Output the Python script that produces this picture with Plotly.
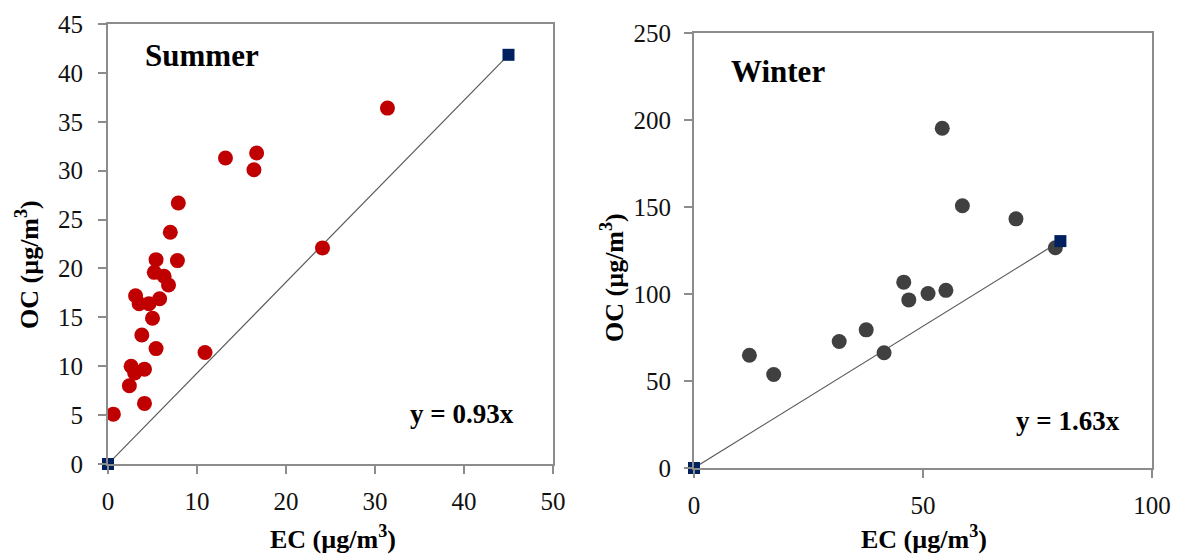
import plotly.graph_objects as go

W, H = 1177, 554

# Summer data
summer_ec = [0.6, 2.4, 2.6, 3.0, 4.1, 4.1, 3.8, 3.1, 3.5, 4.6, 5.0, 5.4, 5.4, 5.2, 6.3, 6.8, 5.8,
             7.0, 7.8, 7.9, 10.9, 13.2, 16.4, 16.7, 24.1, 31.4]
summer_oc = [5.1, 8.0, 10.0, 9.3, 9.7, 6.2, 13.2, 17.2, 16.4, 16.4, 14.9, 11.8, 20.9, 19.6, 19.2, 18.3, 16.9,
             23.7, 20.8, 26.7, 11.4, 31.3, 30.1, 31.8, 22.1, 36.4]
summer_slope = 0.93
summer_line_x = [0, 45]

# Winter data
winter_ec = [12.1, 17.4, 31.7, 37.6, 41.5, 45.8, 46.9, 51.1, 55.0, 54.2, 58.6, 70.3, 78.9]
winter_oc = [64.8, 53.7, 72.7, 79.4, 66.2, 106.8, 96.6, 100.3, 102.1, 195.3, 150.7, 143.2, 126.6]
winter_slope = 1.63
winter_line_x = [0, 80]

summer_xticks = [0, 10, 20, 30, 40, 50]
summer_yticks = [0, 5, 10, 15, 20, 25, 30, 35, 40, 45]
winter_xticks = [0, 50, 100]
winter_yticks = [0, 50, 100, 150, 200, 250]

FONT = "Liberation Serif"
AXC = "#8c8c8c"

fig = go.Figure()
fig.add_trace(go.Scatter(x=summer_line_x, y=[summer_slope * v for v in summer_line_x],
                         mode="lines", line=dict(color="#595959", width=1.2),
                         cliponaxis=False, xaxis="x", yaxis="y", showlegend=False))
fig.add_trace(go.Scatter(x=summer_ec, y=summer_oc, mode="markers",
                         marker=dict(size=15, color="#C00000"), cliponaxis=False,
                         xaxis="x", yaxis="y", showlegend=False))
fig.add_trace(go.Scatter(x=winter_line_x, y=[winter_slope * v for v in winter_line_x],
                         mode="lines", line=dict(color="#595959", width=1.2),
                         cliponaxis=False, xaxis="x2", yaxis="y2", showlegend=False))
fig.add_trace(go.Scatter(x=winter_ec, y=winter_oc, mode="markers",
                         marker=dict(size=15, color="#404040"), cliponaxis=False,
                         xaxis="x2", yaxis="y2", showlegend=False))
fig.add_trace(go.Scatter(x=summer_line_x, y=[summer_slope * v for v in summer_line_x], mode="markers",
                         marker=dict(symbol="square", size=12, color="#002060"),
                         cliponaxis=False, xaxis="x", yaxis="y", showlegend=False))
fig.add_trace(go.Scatter(x=winter_line_x, y=[winter_slope * v for v in winter_line_x], mode="markers",
                         marker=dict(symbol="square", size=12, color="#002060"),
                         cliponaxis=False, xaxis="x2", yaxis="y2", showlegend=False))

def px(x):
    return x / W

def py(y):
    return 1 - y / H

axis_common = dict(showline=True, linecolor=AXC, linewidth=2, mirror=True, showgrid=False,
                   zeroline=False, ticks="outside", ticklen=8, tickwidth=2, tickcolor=AXC,
                   automargin=False,
                   tickfont=dict(family=FONT, size=25, color="#111111"))

fig.update_layout(
    width=W, height=H, margin=dict(l=0, r=0, t=0, b=0),
    paper_bgcolor="white", plot_bgcolor="white",
    xaxis=dict(domain=[px(108), px(553)], range=[0, 50], tickvals=summer_xticks,
               anchor="y", ticklabelstandoff=6, **axis_common),
    yaxis=dict(domain=[py(464), py(24)], range=[0, 45], tickvals=summer_yticks,
               anchor="x", ticklabelstandoff=10, **axis_common),
    xaxis2=dict(domain=[px(694), px(1152)], range=[0, 100], tickvals=winter_xticks,
                anchor="y2", ticklabelstandoff=6, **axis_common),
    yaxis2=dict(domain=[py(468), py(33)], range=[0, 250], tickvals=winter_yticks,
                anchor="x2", ticklabelstandoff=8, **axis_common),
)

def ann(text, x, y, size, angle=0):
    fig.add_annotation(text=text, x=px(x), y=py(y), xref="paper", yref="paper",
                       showarrow=False, textangle=angle, xanchor="center", yanchor="middle",
                       font=dict(family=FONT, size=size, color="#000000"))

ann("<b>Summer</b>", 202, 56, 31)
ann("<b>Winter</b>", 778, 71, 31)
ann("<b>y = 0.93x</b>", 462, 414, 27)
ann("<b>y = 1.63x</b>", 1068, 421, 27)
ann("<b>EC (µg/m<sup>3</sup>)</b>", 333, 537, 26)
ann("<b>EC (µg/m<sup>3</sup>)</b>", 924, 537, 26)
ann("<b>OC (µg/m<sup>3</sup>)</b>", 27, 265, 26, -90)
ann("<b>OC (µg/m<sup>3</sup>)</b>", 612, 278, 26, -90)

fig.write_html("out.html")
